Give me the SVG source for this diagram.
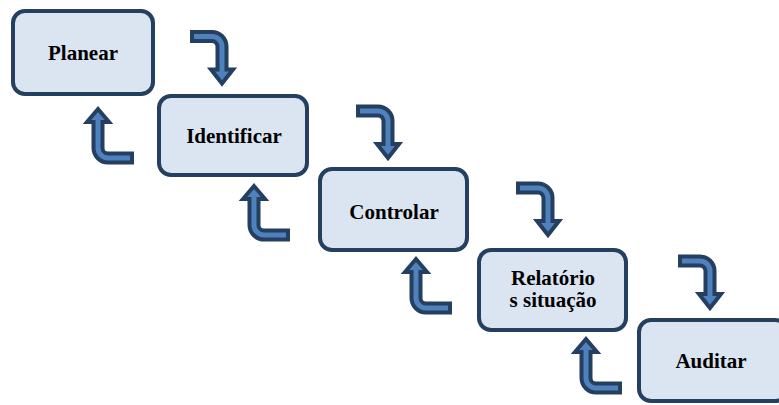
<svg xmlns="http://www.w3.org/2000/svg" width="779" height="405" viewBox="0 0 779 405">
<style>
.box{fill:#DBE5F1;stroke:#243F60;stroke-width:4}
.lbl{font-family:"Liberation Serif","Times New Roman",serif;font-weight:bold;font-size:21px;fill:#000;text-anchor:middle}
.arr{fill:#4F81BD;stroke:#243F60;stroke-width:4;stroke-linejoin:miter}
</style>
<defs>
<path id="dn" d="M 0 -4.5 L 20 -4.5 A 14.5 14.5 0 0 1 34.5 10 L 34.5 33 L 41 33 L 30 47 L 19 33 L 25.5 33 L 25.5 10 A 5.5 5.5 0 0 0 20 4.5 L 0 4.5 Z"/>
<path id="up" d="M 0 -4.5 L -24 -4.5 A 5.5 5.5 0 0 1 -29.5 -10 L -29.5 -36 L -23 -36 L -34 -49 L -45 -36 L -38.5 -36 L -38.5 -10 A 14.5 14.5 0 0 0 -24 4.5 L 0 4.5 Z"/>
</defs>
<rect width="779" height="405" fill="#fff"/>
<g id="connectors">
<use href="#dn" class="arr" transform="translate(192,36.5)"/>
<use href="#dn" class="arr" transform="translate(358,111)"/>
<use href="#dn" class="arr" transform="translate(518,188)"/>
<use href="#dn" class="arr" transform="translate(680,261)"/>
<use href="#up" class="arr" transform="translate(132,158)"/>
<use href="#up" class="arr" transform="translate(288,235)"/>
<use href="#up" class="arr" transform="translate(450,308)"/>
<use href="#up" class="arr" transform="translate(620,388)"/>
</g>
<g id="planear"><rect class="box" x="13" y="11" width="140" height="83" rx="12"/><text class="lbl" x="83" y="60">Planear</text></g>
<g id="identificar"><rect class="box" x="159" y="96" width="148" height="79" rx="12"/><text class="lbl" x="234" y="143">Identificar</text></g>
<g id="controlar"><rect class="box" x="320" y="169" width="147" height="81" rx="12"/><text class="lbl" x="394" y="219">Controlar</text></g>
<g id="relatorio"><rect class="box" x="479" y="250" width="147" height="80" rx="12"/><text class="lbl" x="553" y="285">Relatório</text><text class="lbl" x="553" y="307">s situação</text></g>
<g id="auditar"><rect class="box" x="639" y="320" width="148" height="81" rx="12"/><text class="lbl" x="711" y="368">Auditar</text></g>
</svg>
